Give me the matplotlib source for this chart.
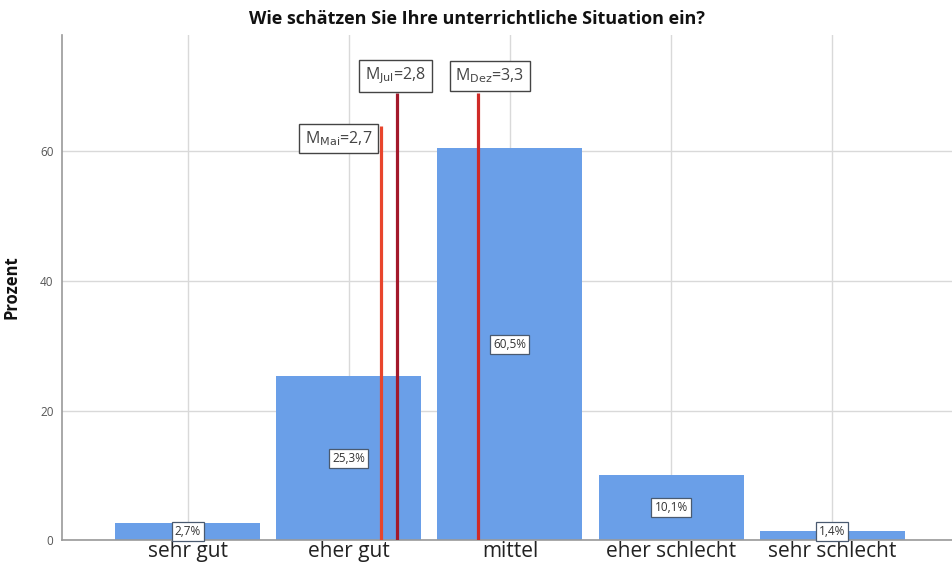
import matplotlib
matplotlib.use("Agg")
import matplotlib.pyplot as plt

categories = ["sehr gut", "eher gut", "mittel", "eher schlecht", "sehr schlecht"]
percent = [2.7, 25.3, 60.5, 10.1, 1.4]
bar_labels = ["2,7%", "25,3%", "60,5%", "10,1%", "1,4%"]

mean_names = ["Mai", "Jul", "Dez"]
mean_values = [2.7, 2.8, 3.3]
mean_texts = ["2,7", "2,8", "3,3"]
mean_line_tops = [64, 69, 69]
mean_colors = ["#e8452c", "#a3192b", "#cf2a27"]

plt.rcParams['font.family'] = ['Open Sans', 'DejaVu Sans']

fig = plt.figure(figsize=(9.53, 5.65), dpi=100)
ax = fig.add_axes([0.065, 0.0442, 0.935, 0.894])

x = list(range(len(categories)))
ax.bar(x, percent, width=0.9, color="#6a9fe8", zorder=2)

for xi, v, lab in zip(x, percent, bar_labels):
    ax.text(xi, max(v / 2, 1.3), lab, ha="center", va="center", fontsize=8.5,
            color="#333333", zorder=5,
            bbox=dict(boxstyle="square,pad=0.25", fc="white", ec="#4a5a70", lw=0.9))

# mean lines (positioned as in the original: value - 1.5 on the category index scale)
label_pos = [(-0.055, 62.0, "right"), (-0.01, 71.7, "center"), (0.076, 71.7, "center")]
for name, m, mt, top, col, (dx, ly, ha) in zip(mean_names, mean_values, mean_texts,
                                                mean_line_tops, mean_colors, label_pos):
    xpos = m - 1.5
    ax.plot([xpos, xpos], [0, top], color=col, lw=2.3, zorder=4, solid_capstyle="butt")
    txt = r"M$_{\mathrm{" + name + r"}}$=" + mt
    ax.text(xpos + dx, ly, txt, ha=ha, va="center", fontsize=11.5, color="#444444", zorder=6,
            bbox=dict(boxstyle="square,pad=0.35", fc="white", ec="#444444", lw=1.0))

ax.set_xlim(-0.78, 4.75)
ax.set_ylim(0, 78)
ax.set_yticks([0, 20, 40, 60])
ax.set_xticks(x)
ax.set_xticklabels(categories, fontsize=15, color="#222222")
ax.tick_params(axis="both", length=0)
ax.tick_params(axis="y", labelsize=8.5, labelcolor="#555555", pad=6)
ax.tick_params(axis="x", pad=1)

ax.grid(True, color="#d9d9d9", lw=1.0, zorder=0)
ax.set_axisbelow(True)
for s in ["top", "right"]:
    ax.spines[s].set_visible(False)
for s in ["left", "bottom"]:
    ax.spines[s].set_color("#999999")
    ax.spines[s].set_linewidth(1.2)

ax.set_ylabel("Prozent", fontsize=12, fontweight="bold", color="#111111", labelpad=14)
fig.text(0.5, 0.966, "Wie schätzen Sie Ihre unterrichtliche Situation ein?",
         ha="center", va="center", fontsize=13, fontweight="bold", color="#111111")

fig.savefig("out.png", dpi=100)
